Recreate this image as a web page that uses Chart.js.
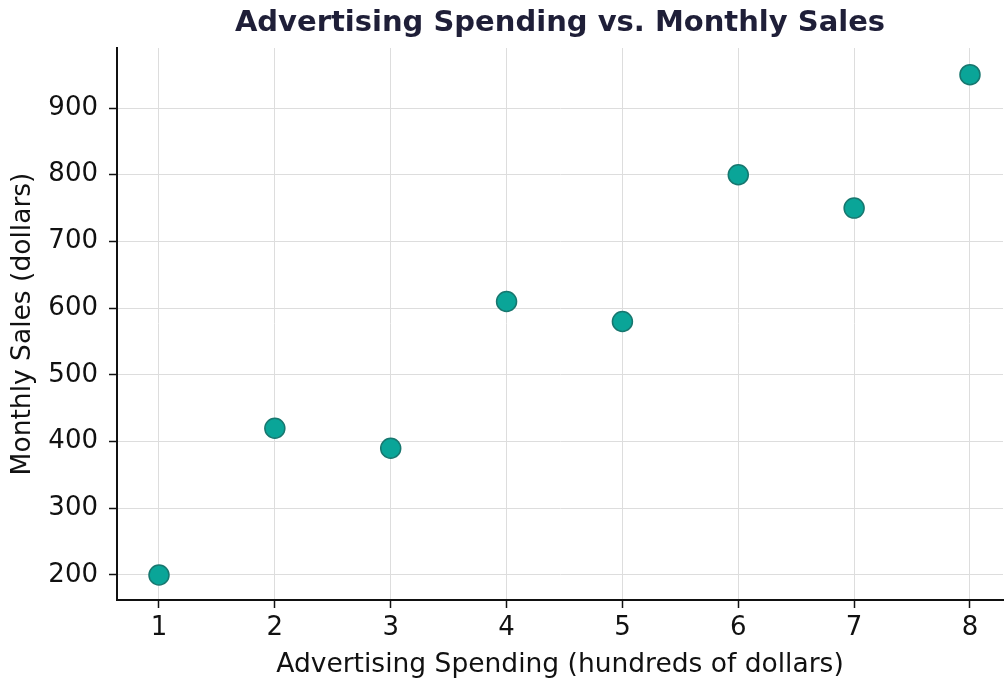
<!DOCTYPE html>
<html>
  <head>
    <title>Advertising vs Sales</title>
    <script src="https://cdn.jsdelivr.net/npm/chart.js"></script>
    <style>
      html, body { margin: 0; padding: 0; background: #fff; }
      .grafico { width: 1004px; height: 683px; }
    </style>
  </head>
  <body>
    <div class="grafico">
      <canvas id="vendas"></canvas>
    </div>

    <script>
      // data
      var gastos = [1, 2, 3, 4, 5, 6, 7, 8];
      var vendas = [200, 420, 390, 610, 580, 800, 750, 950];
      var ticksX = [1, 2, 3, 4, 5, 6, 7, 8];
      var ticksY = [200, 300, 400, 500, 600, 700, 800, 900];

      var pontos = gastos.map((g, i) => ({ x: g, y: vendas[i] }));
      var fonte = "'DejaVu Sans', sans-serif";

      // center the title over the plot area, like the original
      var tituloNoGrafico = {
        id: "tituloNoGrafico",
        afterLayout: (chart) => {
          if (chart.titleBlock) {
            chart.titleBlock.left = chart.chartArea.left;
            chart.titleBlock.right = chart.chartArea.right;
          }
        },
      };

      var grafico = new Chart(document.getElementById("vendas").getContext("2d"), {
        type: "scatter",
        data: {
          datasets: [
            {
              data: pontos,
              backgroundColor: "#0aa598",
              borderColor: "#17776f",
              borderWidth: 1.5,
              pointRadius: 10,
              pointHoverRadius: 10,
            },
          ],
        },
        plugins: [tituloNoGrafico],
        options: {
          responsive: true,
          maintainAspectRatio: false,
          animation: false,
          layout: { autoPadding: false, padding: { left: 0, right: 1, top: 0, bottom: 0 } },
          plugins: {
            legend: { display: false },
            tooltip: { enabled: false },
            title: {
              display: true,
              text: "Advertising Spending vs. Monthly Sales",
              color: "#1f1f38",
              font: { family: fonte, size: 29, weight: "bold", lineHeight: 1.2 },
              padding: { top: 6, bottom: 7.2 },
            },
          },
          scales: {
            x: {
              type: "linear",
              min: 0.6375,
              max: 8.285,
              afterBuildTicks: (axis) => {
                axis.ticks = ticksX.map((v) => ({ value: v }));
              },
              afterFit: (axis) => {
                axis.height = 83;
                axis.paddingLeft = 0;
                axis.paddingRight = 0;
              },
              border: { color: "#111", width: 2 },
              grid: { color: "#dddddd", lineWidth: 1, tickColor: "#111", tickLength: 8, tickWidth: 1.5 },
              ticks: { color: "#111", font: { family: fonte, size: 26 }, padding: 5 },
              title: {
                display: true,
                text: "Advertising Spending (hundreds of dollars)",
                color: "#111",
                font: { family: fonte, size: 26.5, lineHeight: 1.2 },
                padding: { top: 0, bottom: 2 },
              },
            },
            y: {
              min: 162.5,
              max: 990,
              afterBuildTicks: (axis) => {
                axis.ticks = ticksY.map((v) => ({ value: v }));
              },
              afterFit: (axis) => {
                axis.width = 117;
                axis.paddingTop = 0;
                axis.paddingBottom = 0;
              },
              border: { color: "#111", width: 2 },
              grid: { color: "#dddddd", lineWidth: 1, tickColor: "#111", tickLength: 8, tickWidth: 1.5 },
              ticks: { color: "#111", font: { family: fonte, size: 26 }, padding: 11 },
              title: {
                display: true,
                text: "Monthly Sales (dollars)",
                color: "#111",
                font: { family: fonte, size: 26.5, lineHeight: 1.2 },
                padding: { top: 7, bottom: 0 },
              },
            },
          },
        },
      });
    </script>
  </body>
</html>
